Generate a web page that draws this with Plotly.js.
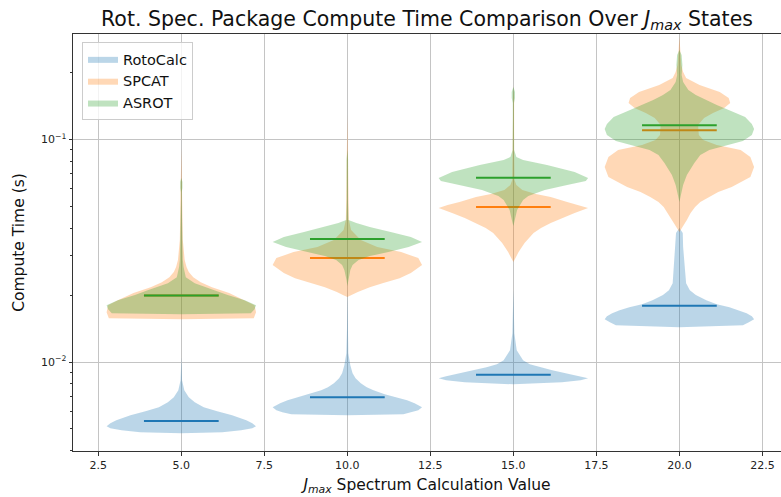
<!DOCTYPE html>
<html>
<head>
<meta charset="utf-8">
<script src="https://cdn.plot.ly/plotly-3.0.1.min.js"></script>
<style>html,body{margin:0;padding:0;background:#fff;}#chart{width:781px;height:497px;}</style>
</head>
<body>
<div id="chart"></div>
<script>
// ---- data ----
const positions = [5, 10, 15, 20];
const seriesNames = ['RotoCalc', 'SPCAT', 'ASROT'];

// violin profiles: compute-time levels (s) and relative density (1 = widest)
const rotoTimes = [
  [0.01051,0.00920,0.00828,0.00747,0.00695,0.00659,0.00626,0.00601,0.00576,0.00547,0.00530,0.00514,0.00504,0.00493,0.00483,0.00478],
  [0.02104,0.01390,0.01095,0.00968,0.00891,0.00845,0.00803,0.00771,0.00747,0.00717,0.00694,0.00673,0.00652,0.00626,0.00607,0.00595,0.00582,0.00576],
  [0.02104,0.01347,0.01130,0.01019,0.00978,0.00948,0.00919,0.00891,0.00863,0.00845,0.00828,0.00811,0.00794],
  [0.03999,0.03797,0.03284,0.02783,0.02262,0.02104,0.01998,0.01897,0.01820,0.01764,0.01710,0.01658,0.01607,0.01558,0.01510,0.01464,0.01434]
];
const rotoDensity = [
  [0,0.005,0.01,0.04,0.1,0.18,0.3,0.48,0.68,0.87,0.95,1.0,0.95,0.8,0.55,0],
  [0,0.005,0.013,0.04,0.07,0.11,0.18,0.26,0.35,0.5,0.67,0.8,0.9,1.0,0.95,0.87,0.75,0],
  [0,0.013,0.045,0.13,0.22,0.36,0.52,0.7,0.9,1.0,0.9,0.65,0],
  [0,0.045,0.05,0.07,0.09,0.14,0.22,0.36,0.5,0.67,0.8,0.9,0.97,1.0,0.93,0.85,0]
];
const spcatTimes = [
  [0.09157,0.05344,0.03531,0.02871,0.02670,0.02535,0.02407,0.02285,0.02170,0.02040,0.01897,0.01801,0.01675,0.01574,0.01558],
  [0.12889,0.08969,0.05344,0.04344,0.03917,0.03531,0.03284,0.03119,0.02931,0.02726,0.02509,0.02382,0.02262,0.02170,0.02061,0.01998,0.01957],
  [0.17586,0.15055,0.08969,0.06574,0.06242,0.05927,0.05686,0.05513,0.05234,0.05074,0.04919,0.04671,0.04435,0.04211,0.03999,0.03797,0.03423,0.03119,0.02812],
  [0.29215,0.25271,0.21633,0.20121,0.18909,0.17586,0.16356,0.15370,0.14594,0.13858,0.13159,0.12494,0.11620,0.10477,0.09948,0.09446,0.08969,0.08342,0.07521,0.06782,0.06114,0.05806,0.05513,0.05234,0.04970,0.04671,0.04344,0.04083,0.03837]
];
const spcatDensity = [
  [0,0.008,0.02,0.045,0.07,0.1,0.16,0.26,0.41,0.64,0.85,0.98,1.0,0.97,0],
  [0,0.01,0.015,0.02,0.05,0.18,0.4,0.72,0.95,1.0,0.85,0.7,0.47,0.3,0.14,0.06,0],
  [0,0.01,0.01,0.015,0.04,0.12,0.3,0.5,0.72,0.88,1.0,0.82,0.65,0.5,0.37,0.27,0.15,0.07,0],
  [0,0.01,0.025,0.05,0.09,0.27,0.54,0.66,0.68,0.6,0.45,0.33,0.25,0.26,0.32,0.5,0.82,0.95,1.0,0.95,0.7,0.52,0.39,0.28,0.21,0.15,0.1,0.05,0]
];
const asrotTimes = [
  [0.06712,0.06439,0.06051,0.05805,0.05344,0.03917,0.02871,0.02670,0.02407,0.02262,0.02104,0.01998,0.01897,0.01801,0.01728,0.01658,0.01641],
  [0.08969,0.08087,0.05344,0.04344,0.04211,0.04041,0.03837,0.03642,0.03459,0.03284,0.03119,0.02993,0.02871,0.02726,0.02588,0.02333,0.02193],
  [0.17225,0.16356,0.15370,0.14594,0.12238,0.08969,0.08342,0.08087,0.07679,0.07142,0.06712,0.06506,0.06242,0.05927,0.05570,0.05344,0.04818,0.04344,0.04083],
  [0.25271,0.23995,0.21633,0.19505,0.18141,0.16698,0.15855,0.15055,0.14295,0.13574,0.12624,0.11741,0.11149,0.10477,0.09846,0.09349,0.08969,0.08516,0.07840,0.06923,0.06242,0.05628,0.05234]
];
const asrotDensity = [
  [0,0.015,0.015,0.006,0.005,0.008,0.02,0.03,0.06,0.18,0.45,0.62,0.85,1.0,0.98,0.93,0],
  [0,0.01,0.008,0.015,0.12,0.3,0.58,0.85,1.0,0.82,0.55,0.3,0.15,0.07,0.04,0.01,0],
  [0,0.022,0.022,0.008,0.008,0.01,0.04,0.13,0.45,0.82,1.0,0.97,0.72,0.42,0.2,0.13,0.05,0.02,0],
  [0,0.03,0.04,0.03,0.05,0.12,0.22,0.35,0.5,0.66,0.88,0.97,1.0,0.97,0.85,0.6,0.4,0.28,0.2,0.1,0.05,0.02,0]
];
// mean compute time per J_max
const rotoMeans  = [0.00543, 0.00694, 0.00877, 0.0179];
const spcatMeans = [0.0199, 0.02934, 0.0497, 0.110];
const asrotMeans = [0.0199, 0.0357, 0.0673, 0.1158];

const xTickVals = [2.5, 5, 7.5, 10, 12.5, 15, 17.5, 20, 22.5];
const xTickText = ['2.5','5.0','7.5','10.0','12.5','15.0','17.5','20.0','22.5'];
const yTickVals = [0.01, 0.1];
const yTickText = ['10<sup>\u22122</sup>', '10<sup>\u22121</sup>'];
const yMinorVals = [0.004,0.005,0.006,0.007,0.008,0.009,0.02,0.03,0.04,0.05,0.06,0.07,0.08,0.09,0.2];

// ---- style ----
const violinWidth = 4.5;
const colors = ['#1f77b4', '#ff7f0e', '#2ca02c'];
const fills = ['rgba(31,119,180,0.3)', 'rgba(255,127,14,0.3)', 'rgba(44,160,44,0.3)'];
const FONT = 'DejaVu Sans, Verdana, sans-serif';
const Y_RANGE = [-2.400, -0.5258];

const allTimes = [rotoTimes, spcatTimes, asrotTimes];
const allDensity = [rotoDensity, spcatDensity, asrotDensity];
const allMeans = [rotoMeans, spcatMeans, asrotMeans];

const traces = [];
const half = violinWidth / 2;
for (let s = 0; s < 3; s++) {
  for (let p = 0; p < positions.length; p++) {
    const t = allTimes[s][p], d = allDensity[s][p], c = positions[p];
    const xs = [], ys = [];
    for (let i = 0; i < t.length; i++) { xs.push(c + half * d[i]); ys.push(t[i]); }
    for (let i = t.length - 1; i >= 0; i--) { xs.push(c - half * d[i]); ys.push(t[i]); }
    traces.push({
      type: 'scatter', mode: 'lines', x: xs, y: ys,
      fill: 'toself', fillcolor: fills[s], line: {width: 0, color: fills[s]},
      name: seriesNames[s], legendgroup: seriesNames[s], showlegend: p === 0,
      hoverinfo: 'skip'
    });
  }
  for (let p = 0; p < positions.length; p++) {
    const c = positions[p], m = allMeans[s][p];
    traces.push({
      type: 'scatter', mode: 'lines',
      x: [c - violinWidth / 4, c + violinWidth / 4], y: [m, m],
      line: {color: colors[s], width: 2}, showlegend: false, legendgroup: seriesNames[s], hoverinfo: 'skip'
    });
  }
}
// invisible trace to activate the minor-tick axis
traces.push({type: 'scatter', mode: 'markers', x: [positions[0]], y: [yTickVals[0]], yaxis: 'y2',
             marker: {opacity: 0}, showlegend: false, hoverinfo: 'skip'});

const layout = {
  width: 781, height: 497,
  margin: {l: 73, r: 0, t: 34, b: 46, pad: 0},
  paper_bgcolor: '#fff', plot_bgcolor: '#fff',
  font: {family: FONT, color: '#222'},
  title: {
    text: 'Rot. Spec. Package Compute Time Comparison Over <i>J</i><sub><i>max</i></sub> States',
    font: {family: FONT, size: 20.5, color: '#111'},
    x: 0.5, xref: 'paper', xanchor: 'center', y: 0.962, yref: 'container', yanchor: 'middle'
  },
  xaxis: {
    range: [1.738, 23.06], tickmode: 'array', tickvals: xTickVals, ticktext: xTickText,
    ticks: 'outside', ticklen: 3.5, tickwidth: 1, tickcolor: '#333',
    tickfont: {family: FONT, size: 11, color: '#222'},
    showgrid: true, gridcolor: '#c4c4c4', gridwidth: 1,
    showline: true, linecolor: '#333', linewidth: 1, mirror: true, zeroline: false,
    title: {text: '<i>J</i><sub><i>max</i></sub> Spectrum Calculation Value',
            font: {family: FONT, size: 15.5, color: '#111'}, standoff: 8}
  },
  yaxis: {
    type: 'log', range: Y_RANGE, tickmode: 'array', tickvals: yTickVals, ticktext: yTickText,
    ticks: 'outside', ticklen: 3.5, tickwidth: 1, tickcolor: '#333',
    tickfont: {family: FONT, size: 11, color: '#222'},
    showgrid: true, gridcolor: '#c4c4c4', gridwidth: 1,
    showline: true, linecolor: '#333', linewidth: 1, zeroline: false,
    title: {text: 'Compute Time (s)', font: {family: FONT, size: 15.5, color: '#111'}, standoff: 12}
  },
  yaxis2: {
    type: 'log', range: Y_RANGE, overlaying: 'y', side: 'left', anchor: 'x',
    tickmode: 'array', tickvals: yMinorVals, ticktext: yMinorVals.map(() => ''),
    ticks: 'outside', ticklen: 2, tickwidth: 1, tickcolor: '#333',
    showgrid: false, showline: false, zeroline: false, showticklabels: false
  },
  legend: {
    x: 0.0127, y: 0.981, xanchor: 'left', yanchor: 'top',
    bgcolor: 'rgba(255,255,255,0.8)', bordercolor: '#cccccc', borderwidth: 1,
    font: {family: FONT, size: 14.5, color: '#111'}, tracegroupgap: 2, traceorder: 'normal'
  },
  showlegend: true
};

Plotly.newPlot('chart', traces, layout, {staticPlot: true, displayModeBar: false});
</script>
</body>
</html>
